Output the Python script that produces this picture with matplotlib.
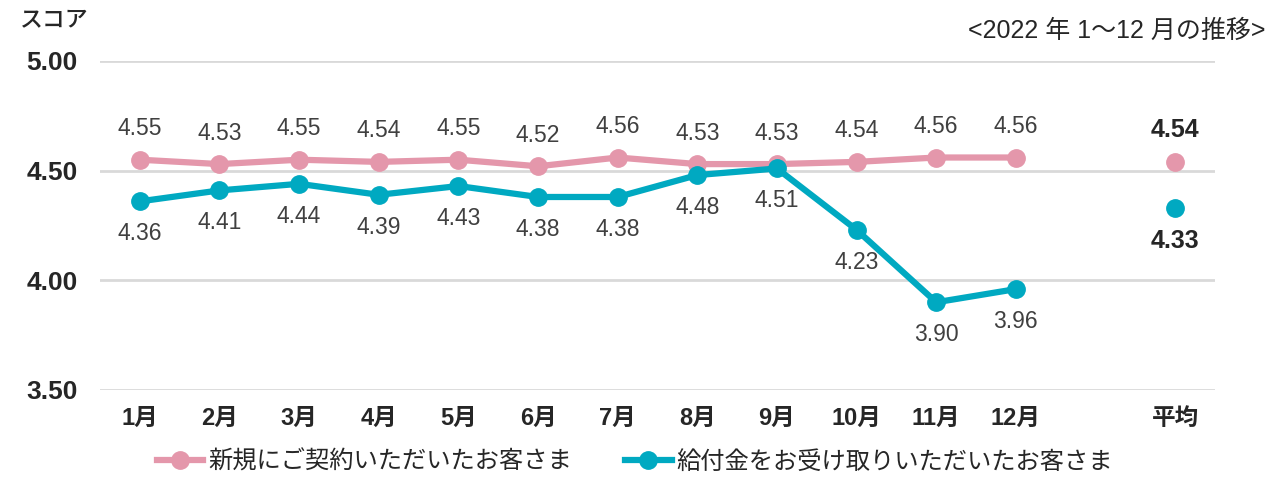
import matplotlib
matplotlib.use('Agg')
from matplotlib import pyplot as plt
import numpy as np

plt.rcParams['font.family'] = ['Liberation Sans', 'Noto Sans CJK JP', 'DejaVu Sans']

months = ['1月', '2月', '3月', '4月', '5月', '6月', '7月', '8月', '9月', '10月', '11月', '12月']
avg_label = '平均'
new_contract = [4.55, 4.53, 4.55, 4.54, 4.55, 4.52, 4.56, 4.53, 4.53, 4.54, 4.56, 4.56]
benefit_paid = [4.36, 4.41, 4.44, 4.39, 4.43, 4.38, 4.38, 4.48, 4.51, 4.23, 3.90, 3.96]
new_contract_avg = 4.54
benefit_paid_avg = 4.33
series_names = ['新規にご契約いただいたお客さま', '給付金をお受け取りいただいたお客さま']

pink = '#E497AB'
teal = '#00A9C1'
txt = '#404040'
dark = '#262626'

fig = plt.figure(figsize=(12.8, 4.88), dpi=100)
ax = fig.add_axes([100/1280, 1 - 390/488, 1115/1280, 329/488])

x = np.arange(len(months))
x_avg = len(months) + 1

ax.plot(x, new_contract, color=pink, lw=4.5, marker='o', ms=12.5, label=series_names[0], zorder=3)
ax.plot(x, benefit_paid, color=teal, lw=4.5, marker='o', ms=12.5, label=series_names[1], zorder=3)
ax.plot([x_avg], [new_contract_avg], 'o', color=pink, ms=12.5, zorder=3)
ax.plot([x_avg], [benefit_paid_avg], 'o', color=teal, ms=12.5, zorder=3)

for xi, v in zip(x, new_contract):
    ax.annotate(f'{v:.2f}', (xi, v), xytext=(0, 14), textcoords='offset points',
                ha='center', va='bottom', fontsize=16.5, color=txt)
for xi, v in zip(x, benefit_paid):
    ax.annotate(f'{v:.2f}', (xi, v), xytext=(0, -15), textcoords='offset points',
                ha='center', va='top', fontsize=16.5, color=txt)
ax.annotate(f'{new_contract_avg:.2f}', (x_avg, new_contract_avg), xytext=(0, 14),
            textcoords='offset points', ha='center', va='bottom', fontsize=18,
            color=dark, weight='bold')
ax.annotate(f'{benefit_paid_avg:.2f}', (x_avg, benefit_paid_avg), xytext=(0, -15),
            textcoords='offset points', ha='center', va='top', fontsize=18,
            color=dark, weight='bold')

ax.set_xlim(-0.5, len(months) + 1.5)
ax.set_ylim(3.5, 5.0)
ax.set_yticks([3.5, 4.0, 4.5, 5.0])
ax.set_yticklabels([f'{t:.2f}' for t in [3.5, 4.0, 4.5, 5.0]], fontsize=19,
                   weight='bold', color=dark)
ax.set_xticks(list(x) + [x_avg])
ax.set_xticklabels(months + [avg_label], fontsize=17, weight='bold', color=dark)
ax.tick_params(axis='x', length=0, pad=12)
ax.tick_params(axis='y', length=0, pad=16)
ax.grid(axis='y', color='#D9D9D9', lw=2)
ax.set_axisbelow(True)
for s in ax.spines.values():
    s.set_visible(False)
for ln in ax.lines:
    ln.set_clip_on(False)

fig.text(20/1280, 1 - 20/488, 'スコア', fontsize=16.5, color=dark, va='center', ha='left',
         weight='medium')
fig.text(1265/1280, 1 - 31/488, '<2022 年 1〜12 月の推移>', fontsize=18, color=dark,
         va='center', ha='right')

fig.legend(loc='center', bbox_to_anchor=(635/1280, 1 - 462/488), ncol=2, frameon=False,
           fontsize=17.5, handlelength=1.9, columnspacing=2.2, handletextpad=0.2,
           labelcolor=dark)

fig.savefig('out.png', dpi=100)
